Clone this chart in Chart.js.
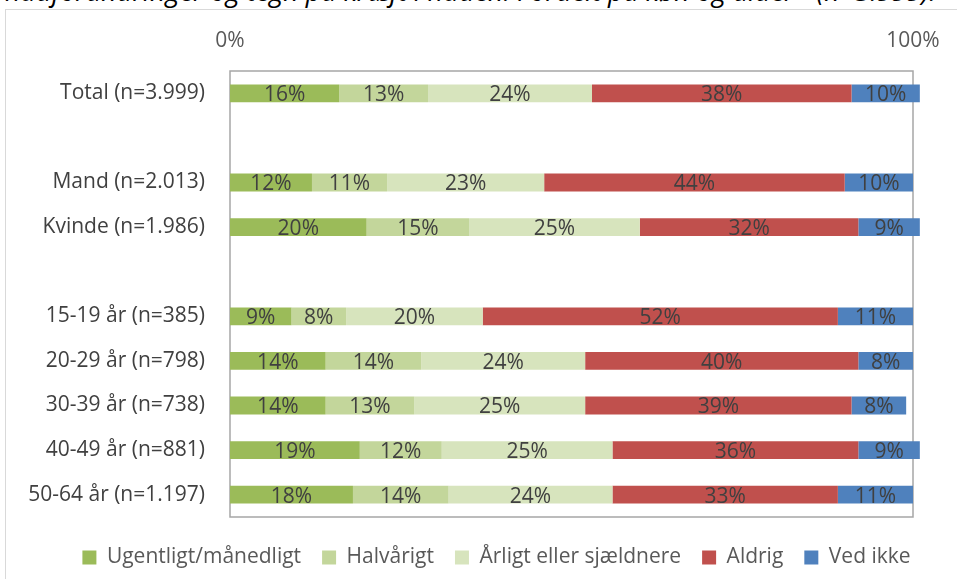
<!DOCTYPE html>
<html>
<head>
<meta charset="utf-8">
<script src="https://cdn.jsdelivr.net/npm/chart.js@4.4.0/dist/chart.umd.min.js"></script>
<style>
  html, body { margin: 0; padding: 0; background: #fff; overflow: hidden; }
  #wrap { position: relative; width: 957px; height: 579px; }
  #frame { position: absolute; left: 5px; top: 9px; width: 1000px; height: 700px; border: 1px solid #d9d9d9; }
  #title { position: absolute; left: 5px; top: -24px; font: italic 27px/30px "Open Sans", sans-serif; color: #000; white-space: nowrap; }
  canvas { position: absolute; left: 0; top: 0; }
</style>
</head>
<body>
<div id="wrap">
  <div id="frame"></div>
  <div id="title">hudforandringer og tegn på kræft i huden. Fordelt på køn og alder* (n=3.999).</div>
  <canvas id="hudChart" width="957" height="579"></canvas>
</div>
<script>
// rows with '' are empty spacer rows
const categories = ['Total (n=3.999)', '', 'Mand (n=2.013)', 'Kvinde (n=1.986)', '',
  '15-19 år (n=385)', '20-29 år (n=798)', '30-39 år (n=738)', '40-49 år (n=881)', '50-64 år (n=1.197)'];

const ugentligt = [16, null, 12, 20, null, 9, 14, 14, 19, 18];
const halvaarigt = [13, null, 11, 15, null, 8, 14, 13, 12, 14];
const aarligt = [24, null, 23, 25, null, 20, 24, 25, 25, 24];
const aldrig = [38, null, 44, 32, null, 52, 40, 39, 36, 33];
const vedIkke = [10, null, 10, 9, null, 11, 8, 8, 9, 11];

const tickLabels = ['0%', '100%'];

const seriesNames = ['Ugentligt/månedligt', 'Halvårigt', 'Årligt eller sjældnere', 'Aldrig', 'Ved ikke'];
const seriesData = [ugentligt, halvaarigt, aarligt, aldrig, vedIkke];
const colors = ['#9bbb59', '#c3d69b', '#d7e4bd', '#c0504d', '#4f81bd'];

const FONT = '"Open Sans", sans-serif';

// grey box round the plot area, drawn under the bars
const plotBorder = {
  id: 'plotBorder',
  beforeDatasetsDraw(chart) {
    const { ctx, chartArea: a } = chart;
    ctx.save();
    ctx.strokeStyle = '#a6a6a6';
    ctx.lineWidth = 1.5;
    ctx.strokeRect(a.left, a.top, a.right - a.left, a.bottom - a.top);
    ctx.restore();
  }
};

// percentage text centred in each segment
const segmentLabels = {
  id: 'segmentLabels',
  afterDatasetsDraw(chart) {
    const ctx = chart.ctx;
    ctx.save();
    ctx.fillStyle = '#404040';
    ctx.font = '21px ' + FONT;
    ctx.textAlign = 'center';
    ctx.textBaseline = 'middle';
    chart.data.datasets.forEach((ds, i) => {
      chart.getDatasetMeta(i).data.forEach((bar, j) => {
        const v = ds.data[j];
        if (v == null) return;
        const p = bar.getProps(['x', 'y', 'base'], true);
        ctx.fillText(v + '%', (p.x + p.base) / 2, p.y + 2);
      });
    });
    ctx.restore();
  }
};

// nudge the legend a bit right and down, as in the original
const legendNudge = {
  id: 'legendNudge',
  afterLayout(chart) {
    const l = chart.legend;
    l.left += 40; l.right += 40;
    l.top += 9; l.bottom += 9;
  }
};

const ctx = document.getElementById('hudChart').getContext('2d');
const hudChart = new Chart(ctx, {
  type: 'bar',
  data: {
    labels: categories,
    datasets: seriesNames.map((name, i) => ({
      label: name,
      data: seriesData[i],
      backgroundColor: colors[i],
      borderWidth: 0,
      barPercentage: 0.8,
      categoryPercentage: 0.5,
      clip: false
    }))
  },
  options: {
    indexAxis: 'y',
    responsive: false,
    animation: false,
    layout: { padding: { left: 0, right: 44, top: 18, bottom: 10 } },
    plugins: {
      legend: {
        position: 'bottom',
        labels: {
          color: '#595959',
          font: { family: FONT, size: 21 },
          boxWidth: 14,
          boxHeight: 14,
          padding: 21
        }
      },
      tooltip: { enabled: false }
    },
    scales: {
      x: {
        position: 'top',
        stacked: true,
        min: 0,
        max: 100,
        grid: { display: false, drawTicks: false },
        border: { display: false },
        afterFit: (s) => { s.height = 53; },
        afterBuildTicks: (s) => { s.ticks = [{ value: 0 }, { value: 100 }]; },
        ticks: {
          color: '#595959',
          font: { family: FONT, size: 21 },
          padding: 17,
          callback: (v, i) => tickLabels[i]
        }
      },
      y: {
        stacked: true,
        grid: { display: false, drawTicks: false },
        border: { display: false },
        afterFit: (s) => { s.width = 230; },
        ticks: {
          color: '#404040',
          font: { family: FONT, size: 21 },
          padding: 25
        }
      }
    }
  },
  plugins: [plotBorder, segmentLabels, legendNudge]
});
</script>
</body>
</html>
